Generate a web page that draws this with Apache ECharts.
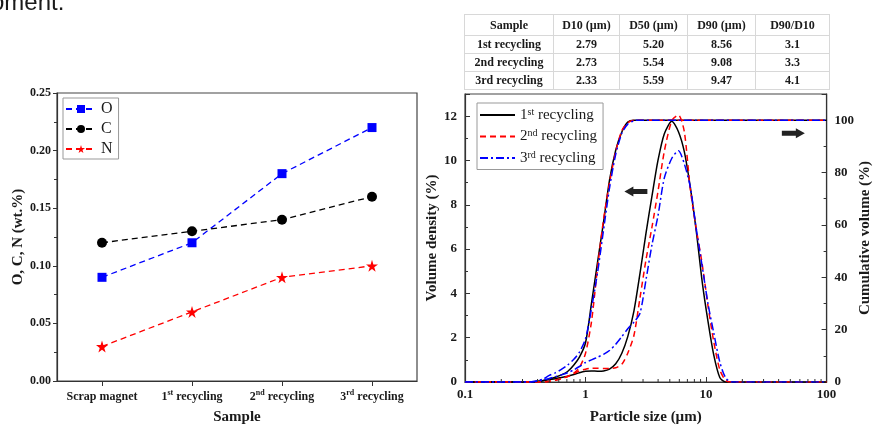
<!DOCTYPE html>
<html>
<head>
<meta charset="utf-8">
<script src="https://cdn.jsdelivr.net/npm/echarts@6/dist/echarts.min.js"></script>
<style>
  html, body { margin: 0; padding: 0; background: #fff; }
  #wrap { position: relative; width: 874px; height: 430px; overflow: hidden; }
  #chart { position: absolute; left: 0; top: 0; width: 874px; height: 430px; }
  #caption { position: absolute; left: -9px; top: -10px; font: 24px/24px 'Liberation Sans', 'DejaVu Sans', sans-serif; color: #1a1a1a; white-space: nowrap; }
  #psd { position: absolute; left: 464px; top: 14px; width: 365px; height: 75px; border-collapse: collapse;
         border: 1.5px solid #8c8c8c; font: bold 12px 'Liberation Serif', 'Times New Roman', serif; color: #1a1a1a; table-layout: fixed; }
  #psd td, #psd th { border: 1px solid #d8d8d8; text-align: center; padding: 0; font-weight: bold; }
  #psd tr.head { height: 21px; }
  #psd tr.row { height: 18px; }
</style>
</head>
<body>
<div id="wrap">
  <div id="chart"></div>
  <div id="caption">oment.</div>
  <table id="psd"></table>
</div>
<script>
// ---- O / C / N content of the recycled magnets (wt.%) ----
const categories = ['Scrap magnet', '1st recycling', '2nd recycling', '3rd recycling'];
const oxygen   = [0.09, 0.12, 0.18, 0.22];
const carbon   = [0.12, 0.13, 0.14, 0.16];
const nitrogen = [0.03, 0.06, 0.09, 0.10];

// ---- particle size distribution ----
const sizes = [0.1, 0.3, 0.35, 0.4, 0.45, 0.5, 0.56, 0.63, 0.71, 0.8, 0.89, 1.0, 1.12, 1.26, 1.41, 1.58,
               1.78, 2.0, 2.24, 2.52, 2.83, 3.17, 3.56, 3.99, 4.5, 5.2, 5.9, 6.6, 7.4, 8.3, 9.3, 10.4,
               11.6, 13.0, 14.5, 16.2, 100];
const density1 = [0, 0, 0, 0.03, 0.07, 0.11, 0.15, 0.2, 0.26, 0.34, 0.42, 0.48, 0.5, 0.49, 0.5, 0.58,
                  0.82, 1.3, 2.05, 3.2, 4.9, 6.7, 8.4, 10.0, 11.2, 11.77, 11.3, 10.4, 8.8, 6.8, 4.5, 2.7,
                  1.2, 0.2, 0, 0, 0];
const density2 = [0, 0, 0, 0, 0, 0.03, 0.08, 0.15, 0.25, 0.38, 0.5, 0.58, 0.62, 0.62, 0.61, 0.61,
                  0.64, 0.8, 1.3, 2.1, 3.8, 5.5, 7.0, 8.6, 10.4, 11.8, 12.05, 11.3, 8.7, 6.9, 5.3, 3.4,
                  1.8, 0.55, 0.08, 0, 0];
const density3 = [0, 0, 0, 0.04, 0.1, 0.16, 0.24, 0.32, 0.42, 0.55, 0.7, 0.88, 1.0, 1.12, 1.25, 1.42,
                  1.7, 2.05, 2.4, 2.7, 3.1, 4.6, 6.2, 7.5, 9.2, 10.1, 10.44, 9.85, 8.8, 6.9, 5.2, 3.5,
                  2.2, 0.9, 0.2, 0, 0];
const cumulative1 = [0, 0, 0, 0.2, 0.6, 1.1, 1.8, 2.7, 4.0, 6.5, 9.5, 15, 30, 46, 61, 77,
                     88.5, 95.5, 99.3, 100, 100, 100, 100, 100, 100, 100, 100, 100, 100, 100, 100, 100,
                     100, 100, 100, 100, 100];
const cumulative2 = [0, 0, 0, 0, 0, 0.3, 0.7, 1.3, 2.1, 3.4, 5.5, 11, 23, 44, 62, 76,
                     88, 96, 99, 100, 100, 100, 100, 100, 100, 100, 100, 100, 100, 100, 100, 100,
                     100, 100, 100, 100, 100];
const cumulative3 = [0, 0, 0, 0.5, 1.2, 2.5, 3.5, 4.8, 6.5, 8.7, 11.4, 16.5, 28, 42, 58, 74,
                     87, 95, 98.5, 99.8, 100, 100, 100, 100, 100, 100, 100, 100, 100, 100, 100, 100,
                     100, 100, 100, 100, 100];
const runNames = ['1st recycling', '2nd recycling', '3rd recycling'];
const sizeMinorTicks = [0.2, 0.3, 0.4, 0.5, 0.6, 0.7, 0.8, 0.9, 2, 3, 4, 5, 6, 7, 8, 9,
                        20, 30, 40, 50, 60, 70, 80, 90];

// ---- summary table ----
const tableHead = ['Sample', 'D10 (µm)', 'D50 (µm)', 'D90 (µm)', 'D90/D10'];
const d10 = [2.79, 2.73, 2.33];
const d50 = [5.20, 5.54, 5.59];
const d90 = [8.56, 9.08, 9.47];
const spanRatio = [3.1, 3.3, 4.1];

(function buildTable() {
  const t = document.getElementById('psd');
  const widths = [89, 66, 68, 68, 74];
  let html = '<colgroup>' + widths.map(w => '<col style="width:' + w + 'px">').join('') + '</colgroup>';
  html += '<tr class="head">' + tableHead.map(h => '<td>' + h + '</td>').join('') + '</tr>';
  runNames.forEach((n, i) => {
    html += '<tr class="row"><td>' + n + '</td><td>' + d10[i].toFixed(2) + '</td><td>' + d50[i].toFixed(2) +
            '</td><td>' + d90[i].toFixed(2) + '</td><td>' + spanRatio[i].toFixed(1) + '</td></tr>';
  });
  t.innerHTML = html;
})();

const SERIF = "'Liberation Serif', 'Times New Roman', serif";
const INK = '#1a1a1a';

// "1st recycling" -> rich text with a superscript ordinal
function supText(s) {
  const m = s.match(/^(\d)(st|nd|rd|th)(.*)$/);
  if (!m) return '{n|' + s + '}';
  return '{n|' + m[1] + '}{s|' + m[2] + '}{n|' + m[3] + '}';
}

const starPath = 'path://M50,0 L61,35 L98,35 L68,57 L79,91 L50,70 L21,91 L32,57 L2,35 L39,35 Z';

const chart = echarts.init(document.getElementById('chart'));

const tickLabel = { fontFamily: SERIF, fontWeight: 'bold', fontSize: 12, color: INK };
const tickLabelR = { fontFamily: SERIF, fontWeight: 'bold', fontSize: 13, color: INK };
const axisName = { fontFamily: SERIF, fontWeight: 'bold', fontSize: 15, color: INK };
const axisLine = { show: true, lineStyle: { color: '#333', width: 1.2 } };

function psdSeries(name, dens, cum, color, dash) {
  const ls = { color: color, width: 1.5, type: dash };
  const common = { name: name, type: 'line', xAxisIndex: 1, showSymbol: false, symbol: 'none',
                   smooth: 0.25, lineStyle: ls, itemStyle: { color: color }, silent: true };
  return [
    Object.assign({}, common, { yAxisIndex: 1, data: sizes.map((s, i) => [s, dens[i]]) }),
    Object.assign({}, common, { yAxisIndex: 2, data: sizes.map((s, i) => [s, cum[i]]) })
  ];
}

const option = {
  animation: false,
  backgroundColor: '#fff',
  grid: [
    { left: 57, right: 457, top: 93, bottom: 47, show: true, borderColor: '#444', borderWidth: 1.2 },
    { left: 465, right: 45, top: 94, bottom: 43, show: true, borderColor: '#444', borderWidth: 1.2 }
  ],
  legend: [
    {
      data: ['O', 'C', 'N'], orient: 'vertical', left: 63, top: 98,
      itemWidth: 30, itemHeight: 10, itemGap: 4, padding: [3, 6, 2, 2],
      borderColor: '#999', borderWidth: 1, selectedMode: false,
      textStyle: { fontFamily: SERIF, fontSize: 16, lineHeight: 14, color: INK }
    },
    {
      data: runNames, orient: 'vertical', left: 477, top: 103,
      itemWidth: 35, itemHeight: 10, itemGap: 6, padding: [4, 6, 4, 2],
      borderColor: '#999', borderWidth: 1, selectedMode: false,
      itemStyle: { opacity: 0 },
      formatter: supText,
      textStyle: {
        fontFamily: SERIF, fontSize: 15, color: INK,
        rich: {
          n: { fontFamily: SERIF, fontSize: 15, color: INK, lineHeight: 16 },
          s: { fontFamily: SERIF, fontSize: 10, color: INK, lineHeight: 9, verticalAlign: 'top' }
        }
      }
    }
  ],
  xAxis: [
    {
      type: 'category', gridIndex: 0, data: categories, boundaryGap: true,
      name: 'Sample', nameLocation: 'middle', nameGap: 29, nameTextStyle: axisName,
      axisLine: axisLine,
      axisTick: { show: true, alignWithLabel: true, inside: false, length: 5, lineStyle: { color: '#333' } },
      axisLabel: {
        interval: 0, margin: 8, formatter: supText,
        rich: {
          n: Object.assign({}, tickLabel, { lineHeight: 15 }),
          s: Object.assign({}, tickLabel, { fontSize: 8, lineHeight: 8, verticalAlign: 'top' })
        }
      },
      splitLine: { show: false }
    },
    {
      type: 'log', gridIndex: 1, logBase: 10, min: 0.1, max: 100,
      name: 'Particle size (µm)', nameLocation: 'middle', nameGap: 28, nameTextStyle: axisName,
      axisLine: axisLine,
      axisTick: { show: true, inside: true, length: 5, lineStyle: { color: '#333' } },
      axisLabel: Object.assign({}, tickLabelR, { margin: 6, formatter: v => String(+(+v).toPrecision(3)) }),
      splitLine: { show: false }
    }
  ],
  yAxis: [
    {
      type: 'value', gridIndex: 0, min: 0, max: 0.25, interval: 0.05,
      name: 'O, C, N (wt.%)', nameLocation: 'middle', nameGap: 31, nameRotate: 90, nameTextStyle: axisName,
      axisLine: axisLine,
      axisTick: { show: true, inside: false, length: 4, lineStyle: { color: '#333' } },
      minorTick: { show: true, splitNumber: 2, length: 3, lineStyle: { color: '#333' } },
      axisLabel: Object.assign({}, tickLabel, { margin: 6, formatter: v => v.toFixed(2) }),
      splitLine: { show: false }
    },
    {
      type: 'value', gridIndex: 1, position: 'left', min: 0, max: 13, interval: 2,
      name: 'Volume density (%)', nameLocation: 'middle', nameGap: 25, nameRotate: 90, nameTextStyle: axisName,
      axisLine: axisLine,
      axisTick: { show: true, inside: true, length: 5, lineStyle: { color: '#333' } },
      minorTick: { show: true, splitNumber: 2, length: 3, lineStyle: { color: '#333' } },
      axisLabel: Object.assign({}, tickLabelR, { margin: 8, showMaxLabel: false }),
      splitLine: { show: false }
    },
    {
      type: 'value', gridIndex: 1, position: 'right', min: 0, max: 110, interval: 20,
      name: 'Cumulative volume (%)', nameLocation: 'middle', nameGap: 31, nameRotate: 90, nameTextStyle: axisName,
      axisLine: axisLine,
      axisTick: { show: true, inside: true, length: 5, lineStyle: { color: '#333' } },
      minorTick: { show: true, splitNumber: 2, length: 3, lineStyle: { color: '#333' } },
      axisLabel: Object.assign({}, tickLabelR, { margin: 8, showMaxLabel: false }),
      splitLine: { show: false }
    }
  ],
  series: [
    {
      name: 'O', type: 'line', xAxisIndex: 0, yAxisIndex: 0, data: oxygen,
      symbol: 'rect', symbolSize: 9, lineStyle: { color: '#0000ff', width: 1.3, type: [6, 4] },
      itemStyle: { color: '#0000ff' }, silent: true
    },
    {
      name: 'C', type: 'line', xAxisIndex: 0, yAxisIndex: 0, data: carbon,
      symbol: 'circle', symbolSize: 10, lineStyle: { color: '#000', width: 1.3, type: [6, 4] },
      itemStyle: { color: '#000' }, silent: true
    },
    {
      name: 'N', type: 'line', xAxisIndex: 0, yAxisIndex: 0, data: nitrogen,
      symbol: starPath, symbolSize: 12, lineStyle: { color: '#ff0000', width: 1.3, type: [6, 4] },
      itemStyle: { color: '#ff0000' }, silent: true
    },
    ...psdSeries(runNames[0], density1, cumulative1, '#000000', 'solid'),
    ...psdSeries(runNames[1], density2, cumulative2, '#ff0000', [6, 4]),
    ...psdSeries(runNames[2], density3, cumulative3, '#0000ff', [8, 3, 2, 3]),
    {
      // logarithmic minor ticks along the particle-size axis
      type: 'custom', xAxisIndex: 1, yAxisIndex: 1, silent: true, z: 5,
      data: sizeMinorTicks.map(v => [v, 0]),
      renderItem: function (params, api) {
        const p = api.coord([api.value(0), 0]);
        return { type: 'line', shape: { x1: p[0], y1: p[1], x2: p[0], y2: p[1] - 3 },
                 style: { stroke: '#333', lineWidth: 1 } };
      }
    }
  ]
};

chart.setOption(option);

// direction arrows pointing each curve family to its axis
function arrow(tip, dir) {
  const L = 23, H = 9, hw = 5, bw = 2.5;
  const pts = [[0, 0], [H, -hw], [H, -bw], [L, -bw], [L, bw], [H, bw], [H, hw]]
    .map(p => [tip[0] + dir * p[0], tip[1] + p[1]]);
  return { type: 'polygon', shape: { points: pts }, style: { fill: '#222' }, silent: true };
}
const leftTip = chart.convertToPixel({ xAxisIndex: 1, yAxisIndex: 1 }, [2.1, 8.6]);
const rightTip = chart.convertToPixel({ xAxisIndex: 1, yAxisIndex: 2 }, [66, 95]);
chart.setOption({ graphic: [arrow(leftTip, 1), arrow(rightTip, -1)] });
</script>
</body>
</html>
